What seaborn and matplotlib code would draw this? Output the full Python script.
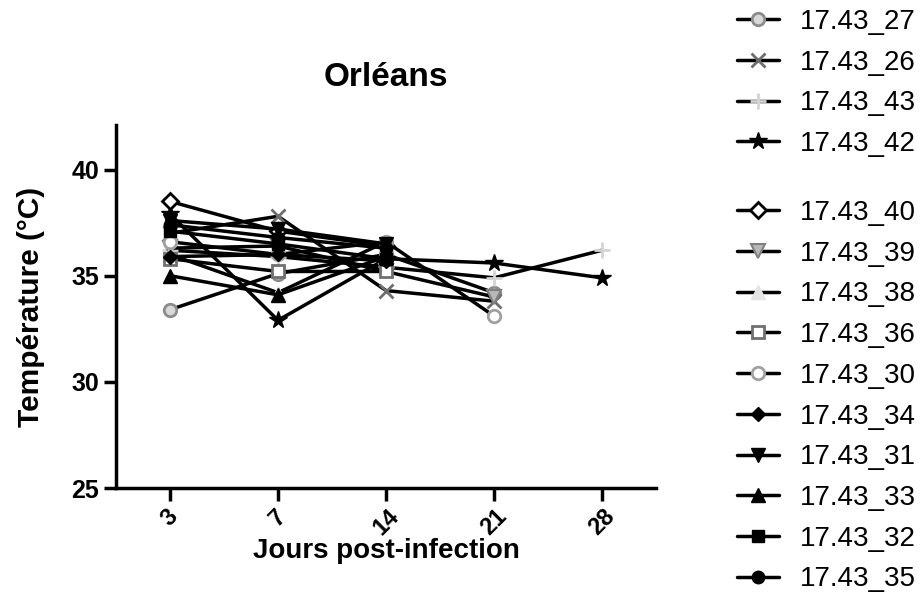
import numpy as np
import pandas as pd
import matplotlib
matplotlib.use("Agg")
import matplotlib.pyplot as plt
import seaborn as sns

sns.set_theme(style="white")
plt.rcParams['font.family'] = ['Liberation Sans', 'DejaVu Sans']
plt.rcParams['text.color'] = 'black'
plt.rcParams['axes.labelcolor'] = 'black'
plt.rcParams['xtick.color'] = 'black'
plt.rcParams['ytick.color'] = 'black'

days = ["3", "7", "14", "21", "28"]
nan = np.nan

s27 = [33.4, 35.1, 36.0, 34.2, nan]
s26 = [37.0, 37.8, 34.3, 33.8, nan]
s43 = [36.2, 35.9, 35.4, 34.9, 36.2]
s42 = [37.9, 32.9, 35.8, 35.6, 34.9]
s40 = [38.5, 37.1, 36.4, nan, nan]
s39 = [36.3, 36.4, 35.2, 34.0, nan]
s38 = [36.0, 34.2, 36.6, nan, nan]
s36 = [35.8, 35.2, 35.2, nan, nan]
s30 = [36.6, 36.0, 36.6, 33.1, nan]
s34 = [35.9, 36.0, 35.7, nan, nan]
s31 = [37.6, 37.2, 36.5, nan, nan]
s33 = [35.0, 34.1, 35.9, nan, nan]
s32 = [37.1, 36.5, 35.8, nan, nan]
s35 = [37.4, 36.8, 36.3, nan, nan]

names = ["17.43_27", "17.43_26", "17.43_43", "17.43_42", "17.43_40", "17.43_39",
         "17.43_38", "17.43_36", "17.43_30", "17.43_34", "17.43_31", "17.43_33",
         "17.43_32", "17.43_35"]
series = [s27, s26, s43, s42, s40, s39, s38, s36, s30, s34, s31, s33, s32, s35]

# marker, size, face, edge, edge width
styles = [
    ("o", 9, "#d8d8d8", "#8c8c8c", 2.0),
    ("x", 10, "#6e6e6e", "#6e6e6e", 2.0),
    ("+", 11, "#d4d4d4", "#d4d4d4", 2.0),
    ("*", 13, "black", "black", 1.0),
    ("D", 8, "white", "black", 2.0),
    ("v", 10, "#b8b8b8", "#808080", 1.5),
    ("^", 10, "#e4e4e4", "#e4e4e4", 1.0),
    ("s", 9, "white", "#707070", 2.0),
    ("o", 9, "white", "#a0a0a0", 2.0),
    ("D", 7, "black", "black", 1.0),
    ("v", 10, "black", "black", 1.0),
    ("^", 10, "black", "black", 1.0),
    ("s", 9, "black", "black", 1.0),
    ("o", 9, "black", "black", 1.0),
]

fig = plt.figure(figsize=(9.23, 5.95), dpi=100)
ax = fig.add_axes([116/923, 1 - 488/595, (656-116)/923, (488-125)/595])

pos = np.arange(len(days))
handles = []
for name, vals, (m, ms, fc, ec, mew) in zip(names, series, styles):
    df = pd.DataFrame({"pos": pos, "T": vals}).dropna()
    sns.lineplot(data=df, x="pos", y="T", ax=ax, color="black", lw=2.5,
                 marker=m, markersize=ms, markerfacecolor=fc,
                 markeredgecolor=ec, markeredgewidth=mew, label=name, legend=False)
    handles.append(ax.lines[-1])

ax.set_xlim(-0.5, 4.5)
ax.set_ylim(25, 42.1)
ax.set_yticks([25, 30, 35, 40])
ax.set_xticks(pos)
ax.set_xticklabels(days, rotation=45, ha="center", fontweight="bold", fontsize=17)
for lab in ax.get_yticklabels():
    lab.set_fontweight("bold")
    lab.set_fontsize(18)

for side in ["top", "right"]:
    ax.spines[side].set_visible(False)
for side in ["left", "bottom"]:
    ax.spines[side].set_linewidth(2.5)
    ax.spines[side].set_color("black")
ax.tick_params(axis="both", which="major", length=9, width=2.5, color="black",
               bottom=True, left=True, pad=3, labelcolor="black")
ax.grid(False)

ax.set_title("Orléans", fontsize=24, fontweight="bold", pad=28)
ax.set_xlabel("Jours post-infection", fontsize=20, fontweight="bold", labelpad=-1)
ax.set_ylabel("Température (°C)", fontsize=21.5, fontweight="bold", labelpad=19)

leg_kw = dict(frameon=False, loc="upper left", borderpad=0, borderaxespad=0,
              handlelength=1.5, handletextpad=0.75, labelspacing=0.53,
              prop={"family": "Liberation Sans", "size": 20})
leg1 = fig.legend(handles=handles[:4], labels=names[:4],
                  bbox_to_anchor=(737/923, 1 - 9/595), **leg_kw)
leg2 = fig.legend(handles=handles[4:], labels=names[4:],
                  bbox_to_anchor=(737/923, 1 - 200/595), **leg_kw)

fig.savefig("out.png", dpi=100)
